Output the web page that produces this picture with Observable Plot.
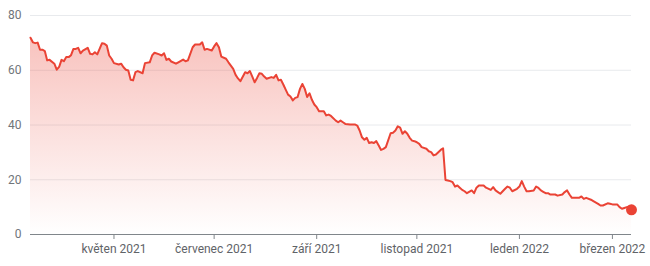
<!DOCTYPE html>
<html>
<head>
<meta charset="utf-8">
<script src="https://cdn.jsdelivr.net/npm/d3@7"></script>
<script src="https://cdn.jsdelivr.net/npm/@observablehq/plot@0.6"></script>
<style>
  html, body { margin: 0; padding: 0; background: #fff; }
</style>
</head>
<body>
<div id="chart"></div>
<script>
// Trading-session index (0 = first session shown, 252 = last session) and closing price
const sessions = [0,1,2,3,4,5,6,7,8,10,11,12,13,14,15,16,17,18,19,20,21,22,24,25,26,27,28,30,31,32,33,34,35,37,38,39,40,41,42,43,44,45,47,48,50,51,52,54,55,56,57,58,59,61,62,64,65,66,68,69,71,72,73,74,76,77,78,79,80,82,83,85,86,87,88,90,91,92,93,94,95,96,97,98,99,101,102,103,104,105,106,107,108,109,110,111,112,113,114,115,116,117,118,119,120,121,123,124,125,126,128,129,130,131,132,134,136,137,138,139,140,141,142,143,144,145,146,147,148,149,151,152,153,154,155,156,157,158,159,160,161,162,163,164,166,167,168,169,170,172,173,174,175,176,177,178,179,180,181,182,183,185,186,187,188,190,191,193,194,195,196,197,198,199,200,201,202,204,205,206,207,208,209,211,212,213,214,215,216,217,218,220,221,223,224,225,226,227,228,230,231,232,233,235,236,238,239,240,242,243,244,246,247,248,249,250,251,252];
const prices = [71.9,70.2,69.9,70.1,67.5,67.5,67.0,63.6,63.8,62.4,60.2,61.2,63.8,63.3,64.8,64.8,65.5,67.8,67.8,68.2,66.2,67.2,68.2,66.0,65.8,66.6,65.8,69.9,69.7,69.0,65.4,64.2,62.6,62.1,62.4,61.1,60.2,59.9,56.5,56.3,59.3,59.7,58.9,62.6,62.9,65.4,66.4,65.8,65.4,66.2,63.8,64.2,63.2,62.4,62.9,63.9,63.3,63.6,68.4,69.4,69.4,70.2,67.5,67.8,67.2,68.7,69.9,68.4,65.0,64.2,62.9,60.5,58.3,57.0,56.0,59.3,58.9,59.7,57.7,55.6,57.2,58.9,58.7,57.7,56.9,57.5,57.2,58.3,56.3,56.5,54.8,52.9,51.1,50.4,49.0,49.9,50.2,53.2,55.0,53.2,50.2,51.6,49.2,47.5,46.5,45.0,45.0,43.5,43.8,43.3,41.6,41.0,41.6,41.0,40.4,40.2,40.2,39.8,38.0,35.5,34.6,35.3,33.4,33.7,33.4,34.1,32.5,30.9,31.3,31.9,37.0,37.2,38.0,39.5,39.0,36.8,37.7,36.8,35.3,34.3,34.1,33.7,33.1,31.9,31.3,30.4,30.1,28.9,29.2,30.9,31.5,19.9,19.7,19.5,19.1,17.5,17.9,17.1,16.3,15.8,15.1,16.1,15.1,17.1,17.9,17.9,17.1,16.3,17.3,16.1,15.5,14.9,15.8,16.7,17.5,17.1,15.8,16.7,17.5,19.5,17.5,15.8,15.8,16.1,17.5,17.0,16.1,15.6,15.1,15.1,14.6,14.6,14.2,14.6,15.5,16.1,14.6,13.4,13.4,13.4,13.9,13.0,13.4,12.7,12.2,11.2,10.6,10.6,11.4,11.2,11.0,11.0,10.0,9.4,9.7,10.0,10.2,9.0];

// Axis ticks
const yTicks = [0, 20, 40, 60, 80];
const xTickSessions = [35, 77, 120, 162, 205, 244];
const xTickLabels = ["květen 2021", "červenec 2021", "září 2021", "listopad 2021", "leden 2022", "březen 2022"];

const data = sessions.map((s, i) => ({session: s, price: prices[i]}));
const last = [data[data.length - 1]];
const red = "#ea4335";

const chart = Plot.plot({
  width: 650,
  height: 266,
  marginTop: 15,
  marginBottom: 32,
  marginLeft: 30,
  marginRight: 19,
  style: {fontFamily: "Roboto, Arial, sans-serif", fontSize: "12px", color: "#70757a", background: "#fff"},
  x: {domain: [0, 252], axis: null},
  y: {domain: [0, 80], axis: null},
  marks: [
    Plot.gridY(yTicks.filter(d => d > 0), {stroke: "#e8eaed", strokeOpacity: 1}),
    Plot.areaY(data, {x: "session", y: "price", fill: "url(#fadeRed)"}),
    Plot.ruleY([0], {stroke: "#80868b", strokeWidth: 1}),
    Plot.lineY(data, {x: "session", y: "price", stroke: red, strokeWidth: 2, strokeLinejoin: "round"}),
    Plot.dot(last, {x: "session", y: "price", r: 5.5, fill: red, stroke: "none"}),
    Plot.axisY(yTicks, {tickSize: 0, tickPadding: 9, fill: "#70757a", fontSize: 12, label: null}),
    Plot.axisX(xTickSessions, {
      tickSize: 5, tickPadding: 5, stroke: "#80868b", fill: "#5f6368", fontSize: 12, label: null,
      tickFormat: d => xTickLabels[xTickSessions.indexOf(d)]
    })
  ]
});

const defs = document.createElementNS("http://www.w3.org/2000/svg", "defs");
defs.innerHTML = `<linearGradient id="fadeRed" x1="0" y1="0" x2="0" y2="1">
  <stop offset="0" stop-color="${red}" stop-opacity="0.32"></stop>
  <stop offset="1" stop-color="${red}" stop-opacity="0"></stop>
</linearGradient>`;
chart.insertBefore(defs, chart.firstChild);

document.getElementById("chart").appendChild(chart);
</script>
</body>
</html>
